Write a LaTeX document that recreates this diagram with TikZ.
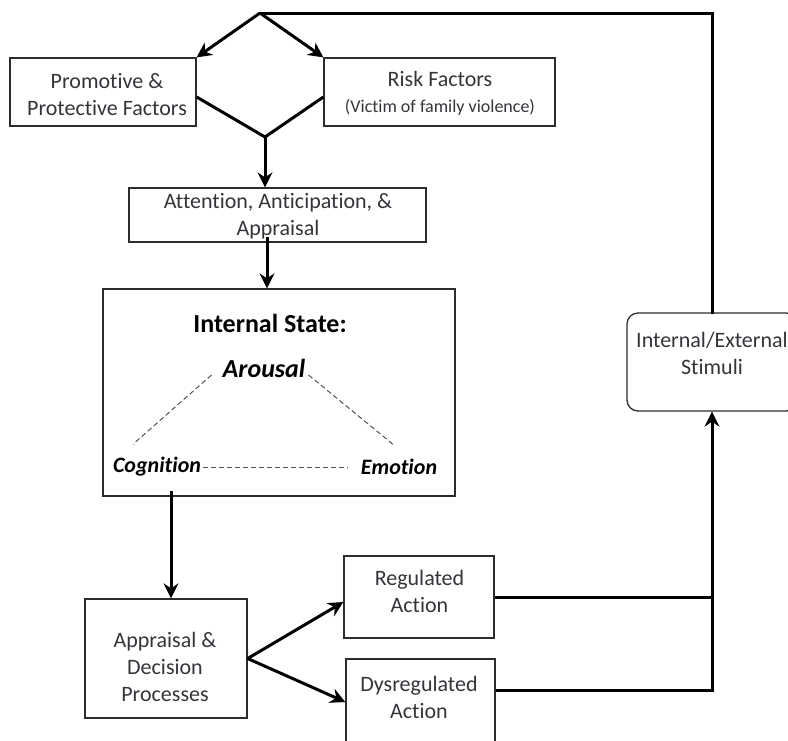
\documentclass[tikz,border=0pt]{standalone}
\usepackage{fontspec}
\setmainfont{Carlito}[Ligatures=NoCommon]
\usetikzlibrary{arrows.meta,calc}
\definecolor{txtc}{RGB}{52,52,58}
\definecolor{boxc}{RGB}{45,45,45}
\definecolor{dashc}{RGB}{80,80,80}
\begin{document}
\begin{tikzpicture}[x=1pt,y=-1pt,
  box/.style={draw=boxc,line width=1.3pt,inner sep=0pt},
  rbox/.style={box,rounded corners=11pt},
  txt/.style={inner sep=0pt,align=center,text=txtc,font=\fontsize{22}{27}\selectfont},
  btxt/.style={inner sep=0pt,text=black},
  thk/.style={line width=3pt,line cap=rect},
  arr/.style={line width=3pt,-{Stealth[length=15pt,width=15pt,inset=5pt]}},
  dsh/.style={draw=dashc,line width=1pt,dash pattern=on 5pt off 3pt}]
\useasboundingbox (0,0) rectangle (788,740);
% boxes
\node[box,minimum width=186pt,minimum height=68pt] (prom) at (103,92) {};
\node[box,minimum width=231pt,minimum height=68pt] (risk) at (439.5,92) {};
\node[box,minimum width=297pt,minimum height=54pt] (attn) at (277.5,215) {};
\node[box,minimum width=352pt,minimum height=207pt] (state) at (279,392.5) {};
\node[rbox,minimum width=170pt,minimum height=98pt] (stim) at (712,362) {};
\node[box,minimum width=162pt,minimum height=119pt] (appr) at (166,658.5) {};
\node[box,minimum width=150pt,minimum height=82pt] (reg) at (419,597) {};
\node[box,minimum width=149pt,minimum height=86pt] (dys) at (420.5,702) {};
% texts
\node[txt] (promt) at (107,95) {Promotive \&\\Protective Factors};
\node[txt] (riskt) at (440,93) {Risk Factors\\[-1pt]{\fontsize{18}{22}\selectfont (Victim of family violence)}};
\node[txt] (attnt) at (278,216.5) {Attention, Anticipation, \&\\Appraisal};
\node[txt] (stimt) at (712,353.5) {Internal/External\\Stimuli};
\node[txt] (apprt) at (165,666.5) {Appraisal \&\\Decision\\Processes};
\node[txt] (regt) at (419.5,591.5) {Regulated\\Action};
\node[txt] (dyst) at (419,697.5) {Dysregulated\\Action};
% internal state contents
\node[btxt,font=\fontsize{26}{30}\selectfont\bfseries] (title) at (270,323) {Internal State:};
\node[btxt,font=\fontsize{26}{30}\selectfont\bfseries\itshape] (arousal) at (264,368) {Arousal};
\node[btxt,font=\fontsize{22}{26}\selectfont\bfseries\itshape] (cog) at (157,467) {Cognition};
\node[btxt,font=\fontsize{22}{26}\selectfont\bfseries\itshape] (emo) at (399,467) {Emotion};
\draw[dsh] ($(arousal.west)+(-11,7)$) -- ($(cog.north)+(-24,-13)$);
\draw[dsh] ($(arousal.east)+(3,7)$) -- ($(emo.north)+(-4,-13)$);
\draw[dsh] ($(cog.east)+(2,0)$) -- ($(emo.west)+(-13,0)$);
% top split
\coordinate (top) at (260,13);
\coordinate (bot) at (265,137);
\draw[thk] (stim.north) |- (top);
\draw[arr] (top) -- (prom.north east);
\draw[arr] (top) -- (risk.north west);
\draw[thk,line cap=butt,line join=miter] ([yshift=-5pt]prom.east) -- (bot) -- ([yshift=-5pt]risk.west);
\draw[arr] (bot) -- (bot |- attn.north);
% middle
\draw[arr] ($(attn.south)+(-10.5,-6)$) coordinate (a1) -- (a1 |- state.north);
\draw[arr] ($(state.south)+(-108,-6)$) coordinate (a2) -- (a2 |- appr.north);
\draw[arr] (appr.east) -- ([yshift=-5pt]reg.west);
\draw[arr] (appr.east) -- (dys.west);
% feedback
\draw[thk,line cap=butt] (reg.east) -- (reg.east -| stim.south);
\draw[arr] ([yshift=12pt]dys.east) -| (stim.south);
\end{tikzpicture}
\end{document}
